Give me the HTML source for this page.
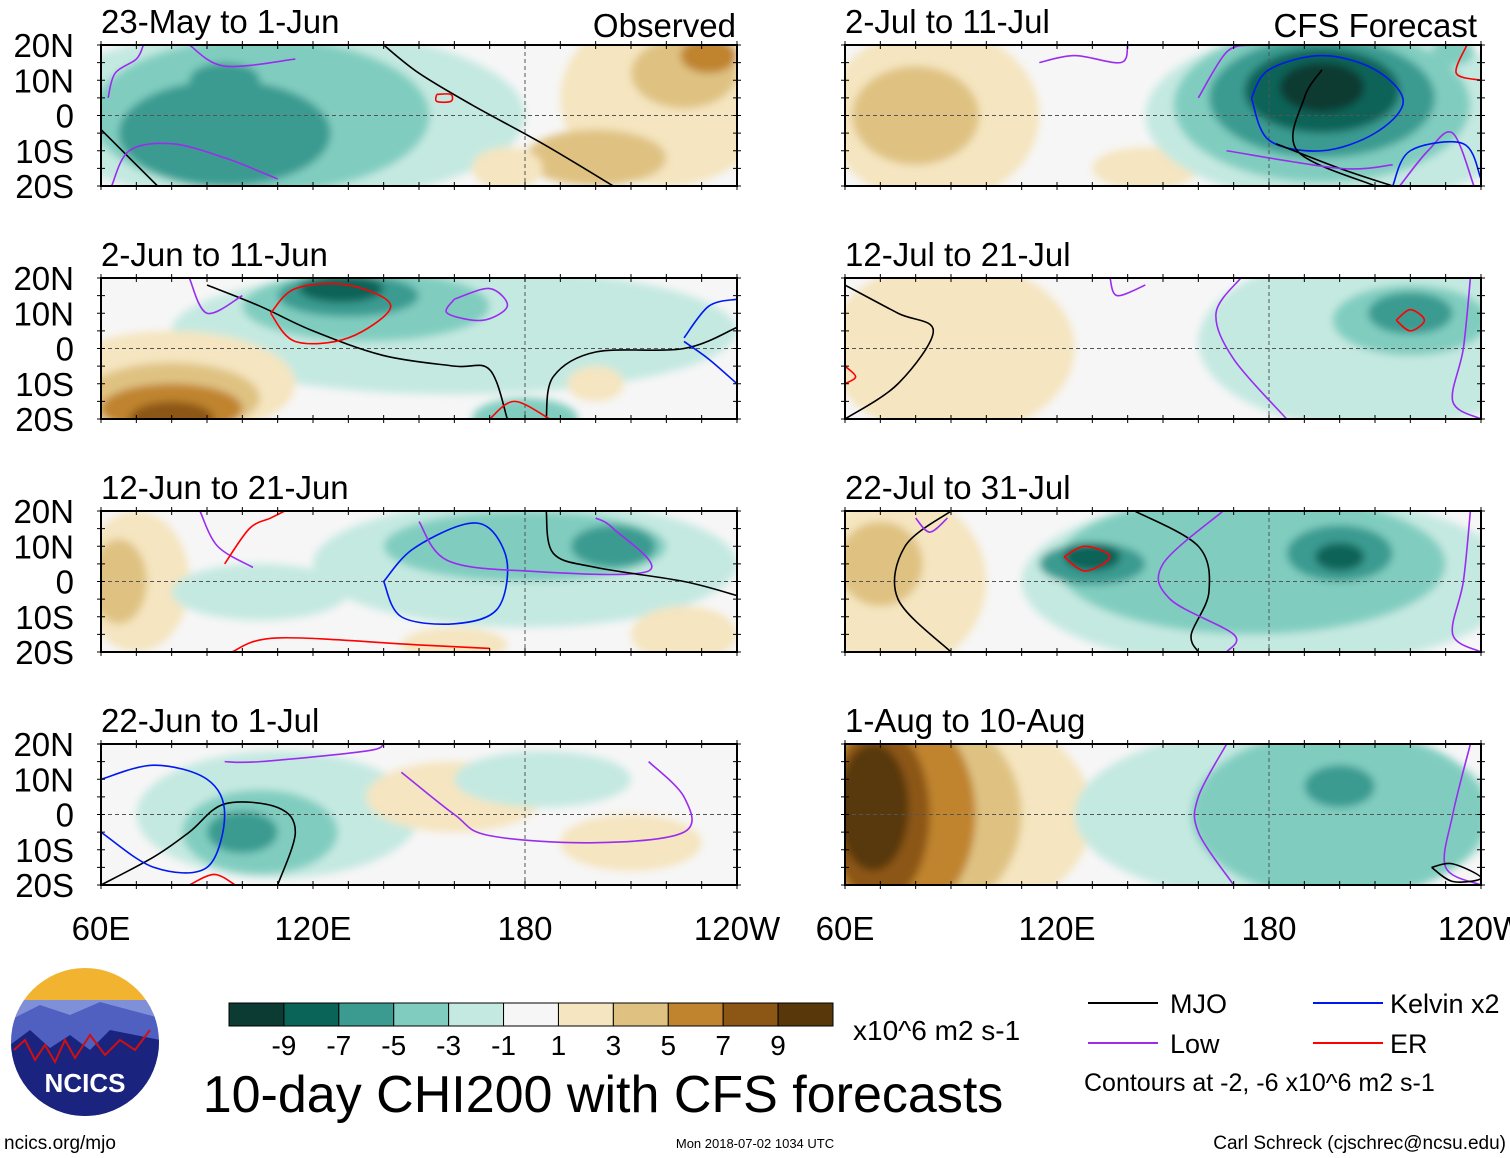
<!DOCTYPE html>
<html><head><meta charset="utf-8"><style>
html,body{margin:0;padding:0;background:#fff}
svg{display:block;font-family:"Liberation Sans",sans-serif}
</style></head><body>
<svg id="s" width="1510" height="1158" viewBox="0 0 1510 1158" xmlns="http://www.w3.org/2000/svg">
<defs><filter id="bl"><feGaussianBlur stdDeviation="4"/></filter></defs>
</svg>
<script>
const levels=[-9,-7,-5,-3,-1,1,3,5,7,9];
const colors=["#0b3b32","#0a6458","#3b9b91","#80cdc0","#c4e9e1","#f6f6f6","#f5e5c0","#dfc282","#c0842f","#8c5614","#58380a"];
const titles=["23-May to 1-Jun","2-Jun to 11-Jun","12-Jun to 21-Jun","22-Jun to 1-Jul","2-Jul to 11-Jul","12-Jul to 21-Jul","22-Jul to 31-Jul","1-Aug to 10-Aug"];
const latTicks=["20N","10N","0","10S","20S"];
const lonTicks=["60E","120E","180","120W"];
// blobs: [lon, lat, rxDeg, ryDeg, colorIndex]
const blobs0=[[110,0,70,25,4],[105,0,48,22,3],[95,-5,30,15,2],[95,10,10,5,2],[220,5,30,25,6],[225,12,15,10,7],[200,-12,20,8,7],[232,17,8,5,8],[175,-15,10,6,6]];
const blobs1=[[160,5,80,18,4],[135,12,35,10,3],[130,15,20,6,2],[128,17,12,4,1],[80,-10,35,15,6],[80,-14,25,10,7],[80,-17,20,7,8],[80,-20,12,5,9],[180,-20,15,6,3],[200,-10,8,5,6]];
const blobs2=[[180,5,60,18,4],[180,10,40,10,3],[205,10,12,6,2],[70,0,15,20,6],[65,0,8,12,7],[225,-15,15,8,6],[160,-18,15,5,6],[105,-3,25,8,4]];
const blobs3=[[110,0,40,18,4],[105,-5,22,12,3],[100,-5,10,6,2],[160,5,25,10,6],[210,-8,20,8,6],[185,10,25,8,4]];
const blobs4=[[85,0,30,25,6],[80,0,18,14,7],[145,-15,15,6,6],[200,0,55,25,4],[195,3,42,22,3],[195,5,32,17,2],[195,7,22,12,1],[195,8,12,7,0],[232,18,6,4,3]];
const blobs5=[[90,0,35,25,6],[210,2,50,25,4],[220,8,22,10,3],[220,10,12,6,2]];
const blobs6=[[75,0,25,25,6],[70,5,12,12,7],[180,0,70,25,4],[175,5,55,20,3],[130,5,15,6,2],[200,8,15,8,2],[200,7,7,4,1],[130,7,8,4,1]];
const blobs7=[[90,0,40,30,6],[80,0,30,30,7],[75,0,22,30,8],[70,0,14,25,9],[68,2,10,18,10],[185,0,60,25,4],[200,0,42,24,3],[200,8,10,6,2]];
const allBlobs=[blobs0,blobs1,blobs2,blobs3,blobs4,blobs5,blobs6,blobs7];
// contour lines: [color, [[lon,lat],...]]
const K="#000",P="#9a2cf0",B="#0018f0",R="#f00";
const lines0=[[K,[[60,-4],[68,-12],[76,-20]]],[K,[[140,20],[150,12],[165,3],[185,-8],[205,-20]]],[P,[[62,5],[64,12],[70,16],[72,20]]],[P,[[63,-20],[68,-10],[80,-8],[95,-12],[110,-18]]],[P,[[85,20],[95,14],[115,16]]],[R,[[155,6],[159,6],[159,4],[155,4],[155,6]]]];
const lines1=[[K,[[90,18],[105,12],[120,5],[140,-2],[160,-5],[170,-6],[175,-20]]],[K,[[186,-20],[188,-8],[200,-1],[225,0],[240,6]]],[R,[[108,10],[115,17],[130,18],[142,12],[130,3],[115,2],[108,10]]],[P,[[160,14],[170,17],[175,12],[168,8],[158,10],[160,14]]],[P,[[85,20],[90,10],[100,15]]],[B,[[225,3],[232,12],[240,14]]],[B,[[240,-10],[232,-3],[225,2]]],[R,[[170,-20],[177,-15],[187,-20]]]];
const lines2=[[B,[[140,0],[148,9],[162,16],[170,15],[175,5],[172,-8],[160,-12],[145,-10],[140,0]]],[P,[[150,17],[158,6],[180,3],[215,3],[205,15],[200,18]]],[P,[[88,20],[93,10],[103,4]]],[R,[[97,-20],[110,-16],[150,-18],[170,-19]]],[R,[[95,5],[102,15],[108,18],[112,20]]],[K,[[186,20],[188,8],[200,4],[225,0],[240,-4]]]];
const lines3=[[K,[[60,-20],[75,-12],[85,-5],[95,3],[110,2],[115,-5],[110,-20]]],[B,[[60,10],[75,14],[90,10],[95,0],[90,-15],[75,-15],[60,-5]]],[P,[[145,12],[160,0],[170,-6],[200,-8],[225,-5],[225,5],[215,15]]],[P,[[95,15],[105,15],[135,18],[140,20]]],[R,[[85,-20],[92,-17],[98,-20]]]];
const lines4=[[B,[[175,5],[180,13],[195,17],[210,13],[218,4],[210,-5],[195,-10],[180,-7],[175,5]]],[K,[[195,13],[190,5],[188,-10],[210,-20]]],[K,[[182,-8],[200,-15],[215,-20]]],[P,[[160,5],[168,18],[175,20]]],[P,[[168,-10],[200,-15],[215,-14]]],[P,[[217,-20],[225,-10],[232,-5],[238,-20]]],[B,[[215,-20],[220,-10],[235,-8],[240,-18]]],[R,[[240,10],[233,12],[236,20]]],[P,[[115,15],[125,17],[138,15],[140,20]]]];
const lines5=[[K,[[60,18],[75,10],[85,5],[75,-10],[60,-20]]],[P,[[172,20],[165,10],[170,-3],[185,-20]]],[P,[[237,20],[235,0],[232,-15],[240,-20]]],[P,[[135,20],[137,15],[145,18]]],[R,[[216,8],[220,11],[224,8],[220,5],[216,8]]],[R,[[60,-5],[63,-8],[60,-10]]]];
const lines6=[[K,[[90,20],[77,10],[75,-5],[90,-20]]],[K,[[142,20],[160,10],[163,-3],[158,-15],[160,-20]]],[P,[[167,20],[150,5],[152,-5],[170,-15],[168,-20]]],[P,[[237,20],[235,0],[232,-15],[240,-20]]],[R,[[122,7],[128,10],[135,7],[128,3],[122,7]]],[P,[[80,18],[84,14],[89,18]]]];
const lines7=[[P,[[168,20],[160,5],[160,-5],[170,-20]]],[P,[[237,20],[232,0],[230,-15],[240,-20]]],[K,[[226,-15],[232,-14],[240,-18],[232,-19],[226,-15]]]];
const allLines=[lines0,lines1,lines2,lines3,lines4,lines5,lines6,lines7];
const S=document.getElementById('s'),NS="http://www.w3.org/2000/svg";
function mk(t,a,p){const e=document.createElementNS(NS,t);for(const k in a)e.setAttribute(k,a[k]);(p||S).appendChild(e);return e;}
function smooth(pts){let d="M"+pts[0][0]+" "+pts[0][1];for(let i=0;i<pts.length-1;i++){const p0=pts[Math.max(0,i-1)],p1=pts[i],p2=pts[i+1],p3=pts[Math.min(pts.length-1,i+2)];
 d+=" C"+(p1[0]+(p2[0]-p0[0])/6)+" "+(p1[1]+(p2[1]-p0[1])/6)+" "+(p2[0]-(p3[0]-p1[0])/6)+" "+(p2[1]-(p3[1]-p1[1])/6)+" "+p2[0]+" "+p2[1];}return d;}
const colX=[101,845],rowY=[45,278,511,744],PW=636,PH=141;
for(let i=0;i<8;i++){
 const c=i<4?0:1,r=i%4,x0=colX[c],y0=rowY[r];
 const X=lon=>x0+(lon-60)/180*PW, Y=lat=>y0+(20-lat)/40*PH;
 const g=mk('g',{});
 
 
 mk('clipPath',{id:'c'+i},g);mk('rect',{x:x0,y:y0,width:PW,height:PH},g.lastChild);
 const f=mk('g',{'clip-path':'url(#c'+i+')'},g);
 mk('rect',{x:x0,y:y0,width:PW,height:PH,fill:colors[5]},f);
 const fg=mk('g',{filter:'url(#bl)'},f);
 allBlobs[i].forEach(b=>{const e=mk('ellipse',{cx:X(b[0]),cy:Y(b[1]),rx:b[2]/180*PW,ry:b[3]/40*PH,fill:colors[b[4]]},fg);
  
  });
 mk('line',{x1:x0,x2:x0+PW,y1:Y(0),y2:Y(0),stroke:'#555','stroke-dasharray':'4,3','stroke-width':1},f);
 mk('line',{x1:X(180),x2:X(180),y1:y0,y2:y0+PH,stroke:'#555','stroke-dasharray':'4,3','stroke-width':1},f);
 allLines[i].forEach(L=>{const e=mk('path',{d:smooth(L[1].map(p=>[X(p[0]),Y(p[1])])),fill:'none',stroke:L[0],'stroke-width':1.6},f);
  
  });
 mk('rect',{x:x0,y:y0,width:PW,height:PH,fill:'none',stroke:'#000','stroke-width':2},g);
 for(let l=60;l<=240;l+=10){const tx=X(l);mk('line',{x1:tx,x2:tx,y1:y0-4,y2:y0+4,stroke:'#000'},g);mk('line',{x1:tx,x2:tx,y1:y0+PH-4,y2:y0+PH+4,stroke:'#000'},g);}
 for(let la=-20;la<=20;la+=5){const ty=Y(la);mk('line',{x1:x0-4,x2:x0+4,y1:ty,y2:ty,stroke:'#000'},g);mk('line',{x1:x0+PW-4,x2:x0+PW+4,y1:ty,y2:ty,stroke:'#000'},g);}
 const t=mk('text',{x:x0,y:y0-12,'font-size':33},g);t.textContent=titles[i];
 
 
 if(c===0){latTicks.forEach((s,k)=>{const tt=mk('text',{x:74,y:y0+k*PH/4+12,'font-size':33,'text-anchor':'end'});tt.textContent=s;
  
  });}
 if(r===3){lonTicks.forEach((s,k)=>{const tt=mk('text',{x:x0+k*PW/3,y:940,'font-size':33,'text-anchor':'middle'});tt.textContent=s;
  
  });}
}
let t=mk('text',{x:736,y:37,'font-size':33,'text-anchor':'end'});t.textContent="Observed";

t=mk('text',{x:1477,y:37,'font-size':33,'text-anchor':'end'});t.textContent="CFS Forecast";

const cb=mk('g',{});
const bw=604/colors.length;
colors.forEach((col,k)=>mk('rect',{x:229+k*bw,y:1003,width:bw,height:23,fill:col,stroke:'#000','stroke-width':1},cb));
levels.forEach((v,k)=>{const tt=mk('text',{x:229+(k+1)*bw,y:1055,'font-size':28,'text-anchor':'middle'},cb);tt.textContent=String(v);});
t=mk('text',{x:853,y:1040,'font-size':28});t.textContent="x10^6 m2 s-1";

t=mk('text',{x:603,y:1112,'font-size':52,'text-anchor':'middle'});t.textContent="10-day CHI200 with CFS forecasts";

const lg=[["MJO","#000",1088,1170,1003],["Low","#9a2cf0",1088,1170,1043],["Kelvin x2","#0018f0",1313,1390,1003],["ER","#f00",1313,1390,1043]];
lg.forEach(a=>{const g=mk('g',{});
 mk('line',{x1:a[2],x2:a[2]+70,y1:a[4],y2:a[4],stroke:a[1],'stroke-width':2},g);
 const tt=mk('text',{x:a[3],y:a[4]+10,'font-size':27},g);tt.textContent=a[0];});
t=mk('text',{x:1084,y:1091,'font-size':25});t.textContent="Contours at -2, -6 x10^6 m2 s-1";

t=mk('text',{x:4,y:1149,'font-size':19});t.textContent="ncics.org/mjo";

t=mk('text',{x:755,y:1148,'font-size':13,'text-anchor':'middle'});t.textContent="Mon 2018-07-02 1034 UTC";

t=mk('text',{x:1506,y:1149,'font-size':19,'text-anchor':'end'});t.textContent="Carl Schreck (cjschrec@ncsu.edu)";

const lo=mk('g',{});
mk('clipPath',{id:'lc'},lo);mk('circle',{cx:85,cy:1042,r:74},lo.lastChild);
const lg2=mk('g',{'clip-path':'url(#lc)'},lo);
mk('rect',{x:10,y:966,width:150,height:60,fill:'#f2b430'},lg2);
mk('rect',{x:10,y:1000,width:150,height:30,fill:'#8090d8'},lg2);
mk('path',{d:'M10 1020 L40 1005 L70 1015 L100 1002 L160 1018 L160 1120 L10 1120Z',fill:'#5060c0'},lg2);
mk('path',{d:'M10 1045 L30 1030 L50 1048 L70 1035 L90 1050 L110 1030 L160 1040 L160 1120 L10 1120Z',fill:'#1a237e'},lg2);
mk('polyline',{points:'14,1050 25,1040 35,1060 45,1045 55,1062 65,1040 75,1058 90,1035 105,1055 120,1040 135,1050 150,1030',fill:'none',stroke:'#d01010','stroke-width':2},lg2);
t=mk('text',{x:85,y:1092,'font-size':26,'font-weight':'bold',fill:'#fff','text-anchor':'middle'},lo);t.textContent="NCICS";
</script>
</body></html>
